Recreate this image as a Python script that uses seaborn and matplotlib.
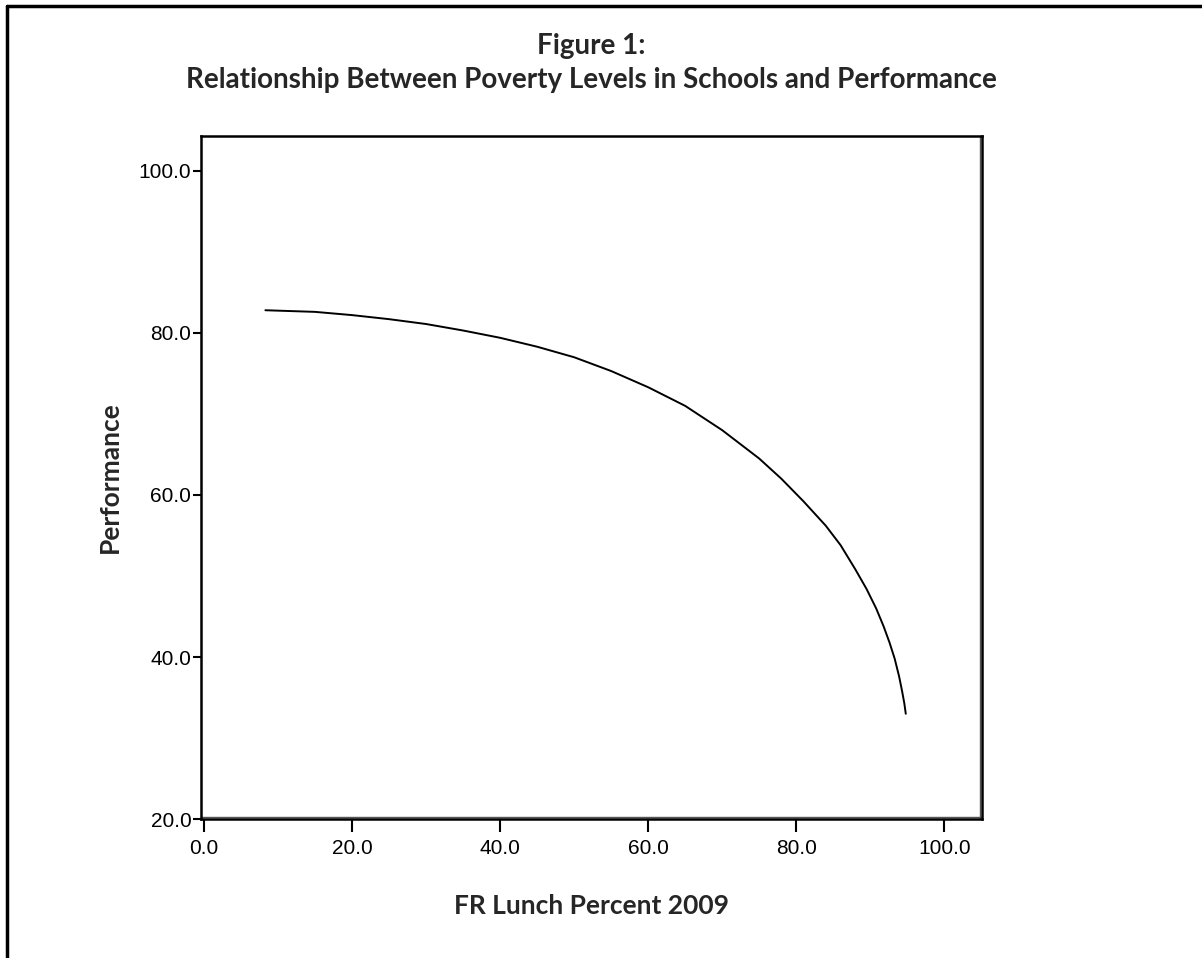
import seaborn as sns
import matplotlib.pyplot as plt
import pandas as pd
from matplotlib.lines import Line2D

# Fitted curve
fr_lunch = [8.3, 15, 20, 25, 30, 35, 40, 45, 50, 55, 60, 65, 70, 75, 78, 81,
            84, 86, 88, 89.5, 90.8, 91.8, 92.6, 93.3, 93.9, 94.3, 94.6, 94.8]
performance = [82.8, 82.6, 82.2, 81.7, 81.1, 80.3, 79.4, 78.3, 77.0, 75.3,
               73.3, 71.0, 68.0, 64.5, 62.0, 59.2, 56.2, 53.8, 50.8, 48.4,
               46.0, 43.8, 41.8, 39.8, 37.6, 35.8, 34.3, 33.0]

x_ticks = [0, 20, 40, 60, 80, 100]
y_ticks = [20, 40, 60, 80, 100]

df = pd.DataFrame({"fr": fr_lunch, "perf": performance})

sns.set_style("white")
plt.rcParams["font.family"] = ["Liberation Sans", "DejaVu Sans"]

fig = plt.figure(figsize=(12.02, 9.58), dpi=100)
ax = fig.add_axes([0.1672, 0.145, 0.6498, 0.713])

sns.lineplot(data=df, x="fr", y="perf", ax=ax, color="black", linewidth=1.4,
             sort=False, estimator=None)

ax.set_xlim(-0.4, 105.1)
ax.set_ylim(20, 104.3)
ax.set_xticks(x_ticks)
ax.set_xticklabels([f"{v:.1f}" for v in x_ticks])
ax.set_yticks(y_ticks)
ax.set_yticklabels([f"{v:.1f}" for v in y_ticks])
ax.tick_params(axis="x", direction="out", length=9, width=1.5, pad=5,
               labelsize=15, bottom=True, colors="black")
ax.tick_params(axis="y", direction="out", length=6, width=1.5, pad=1,
               labelsize=15, left=True, colors="black")

for s in ax.spines.values():
    s.set_linewidth(1.8)
    s.set_color("black")

# doubled right/bottom frame line as in the reference
ax.add_line(Line2D([0.9975, 0.9975], [0, 1], transform=ax.transAxes,
                   color="#555555", linewidth=1.0, clip_on=False))
ax.add_line(Line2D([0, 1], [0.003, 0.003], transform=ax.transAxes,
                   color="#555555", linewidth=1.0, clip_on=False))

bold = dict(family=["Lato", "DejaVu Sans"], fontweight="bold", fontsize=19)
ax.set_xlabel("FR Lunch Percent 2009", labelpad=26, **bold)
ax.set_ylabel("Performance", labelpad=12, **bold)

title = dict(bold, fontsize=20)
fig.text(0.4917, 0.952, "Figure 1:", ha="center", va="center", **title)
fig.text(0.4917, 0.916, "Relationship Between Poverty Levels in Schools and Performance",
         ha="center", va="center", **title)

# outer frame (top and left visible)
fig.add_artist(Line2D([0.006, 1.0], [0.9935, 0.9935], transform=fig.transFigure,
                      color="black", linewidth=2.5))
fig.add_artist(Line2D([0.0058, 0.0058], [0.0, 0.9935], transform=fig.transFigure,
                      color="black", linewidth=2.5))

plt.savefig("out.png", dpi=100)
